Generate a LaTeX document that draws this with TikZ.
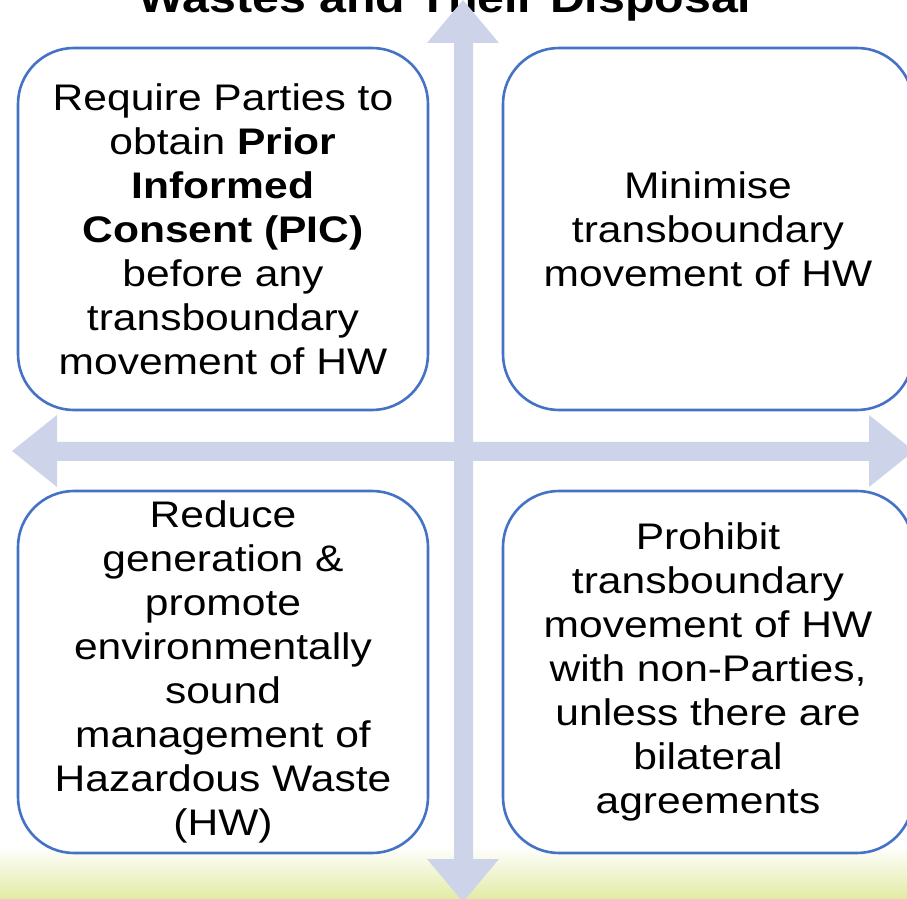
\documentclass[tikz,border=0pt]{standalone}
\usepackage{fontspec}
\setmainfont{Liberation Sans}[FakeStretch=1.15]
\definecolor{crossblue}{RGB}{205,212,234}
\definecolor{boxblue}{RGB}{68,114,196}
\definecolor{bandgreen}{RGB}{226,235,164}
\tikzset{
  aimbox/.style={draw=boxblue,line width=1.3pt,fill=white,rounded corners=28pt,
    minimum width=205pt,minimum height=181pt,align=center,inner sep=0pt,
    font=\fontsize{18.5}{22}\selectfont}
}
\begin{document}
\begin{tikzpicture}[x=0.5pt,y=-0.5pt]
\useasboundingbox (0,0) rectangle (907,899);
\clip (0,0) rectangle (907,899);
\shade[top color=white,bottom color=bandgreen] (0,846) rectangle (907,899);
\node[font=\fontsize{21}{25}\selectfont\bfseries,anchor=base] (title) at (445,13) {Wastes and Their Disposal};
% the cross of arrows
\fill[crossblue] (463,0) -- (499,43) -- (473,43) -- (473,442) -- (869,442) -- (869,415) -- (914,451)
  -- (869,487) -- (869,461) -- (473,461) -- (473,859) -- (499,859) -- (463,902) -- (427,859)
  -- (454,859) -- (454,461) -- (57,461) -- (57,487) -- (12,451) -- (57,415) -- (57,442)
  -- (454,442) -- (454,43) -- (427,43) -- cycle;
\node[aimbox] (pic) at (223,229) {Require Parties to\\obtain \textbf{Prior}\\\textbf{Informed}\\\textbf{Consent (PIC)}\\before any\\transboundary\\movement of HW};
\node[aimbox] (minimise) at (708,229) {Minimise\\transboundary\\movement of HW};
\node[aimbox] (reduce) at (223,672) {Reduce\\generation \&\\promote\\environmentally\\sound\\management of\\Hazardous Waste\\(HW)};
\node[aimbox] (prohibit) at (708,672) {Prohibit\\transboundary\\movement of HW\\with non-Parties,\\unless there are\\bilateral\\agreements};
\end{tikzpicture}
\end{document}
